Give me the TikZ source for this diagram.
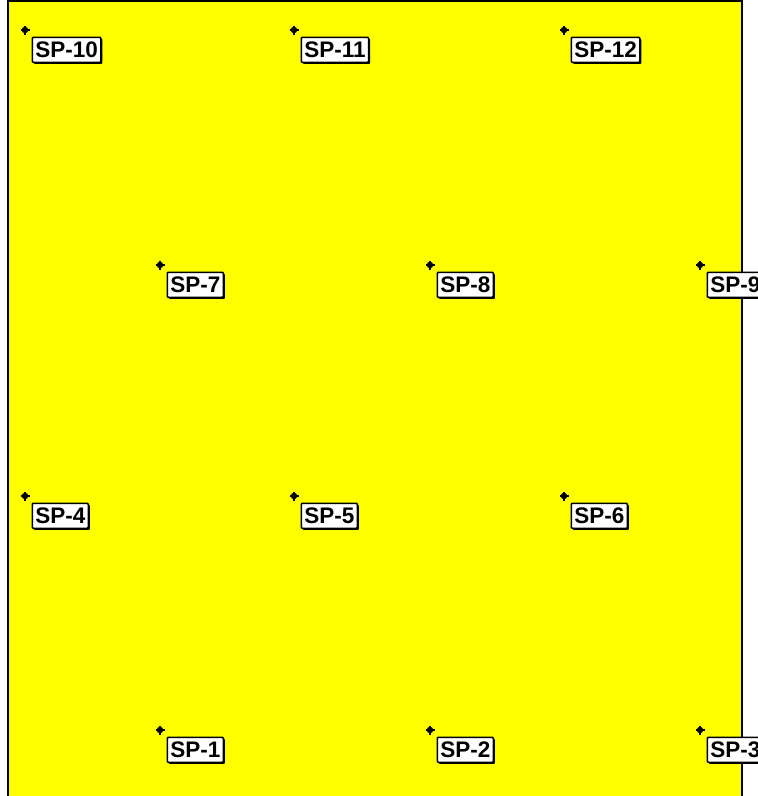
\documentclass[tikz,border=0pt]{standalone}
\usepackage{fontspec}
\setsansfont{Liberation Sans}
\usetikzlibrary{shadows}
\definecolor{siteyellow}{RGB}{255,255,0}
\tikzset{
    sitearea/.style={fill=siteyellow, draw=black, line width=2pt},
    spmark/.style={circle, fill=black, inner sep=0pt, minimum size=6.5pt},
    splabel/.style={anchor=north west, fill=white, draw=black, line width=1.6pt,
        rounded corners=1pt, font=\sffamily\bfseries\fontsize{22.5}{22.5}\selectfont,
        text height=16pt, text depth=0pt, inner xsep=3pt, inner ysep=4.5pt,
        drop shadow={shadow xshift=1.6pt, shadow yshift=-1.6pt, fill=black, opacity=1}},
}
\newcommand\StakePoint[3]{%
    \coordinate (p#1) at (#2,#3);%
    \node[spmark] (m#1) at (p#1) {};%
    \draw[line width=1.6pt] ([xshift=-4.5pt]p#1) -- ([xshift=4.5pt]p#1) ([yshift=-4.5pt]p#1) -- ([yshift=4.5pt]p#1);%
    \node[splabel] (sp#1) at ([xshift=6.5pt,yshift=-6.5pt]p#1) {SP-#1};%
}

\begin{document}
\begin{tikzpicture}[x=1pt, y=-1pt]
\useasboundingbox (0,0) rectangle (758,796);
\begin{scope}
    \clip (0,0) rectangle (758,796);
    % site outline
    \draw[sitearea] (8,1) rectangle (742,810);
    % stake points
    \foreach \n/\x/\y in {1/160/730, 2/430/730, 3/700/730,
                          4/25/496, 5/294/496, 6/564/496,
                          7/160/265, 8/430/265, 9/700/265,
                          10/25/30, 11/294/30, 12/564/30} {
        \StakePoint{\n}{\x}{\y}
    }
\end{scope}
\end{tikzpicture}
\end{document}
